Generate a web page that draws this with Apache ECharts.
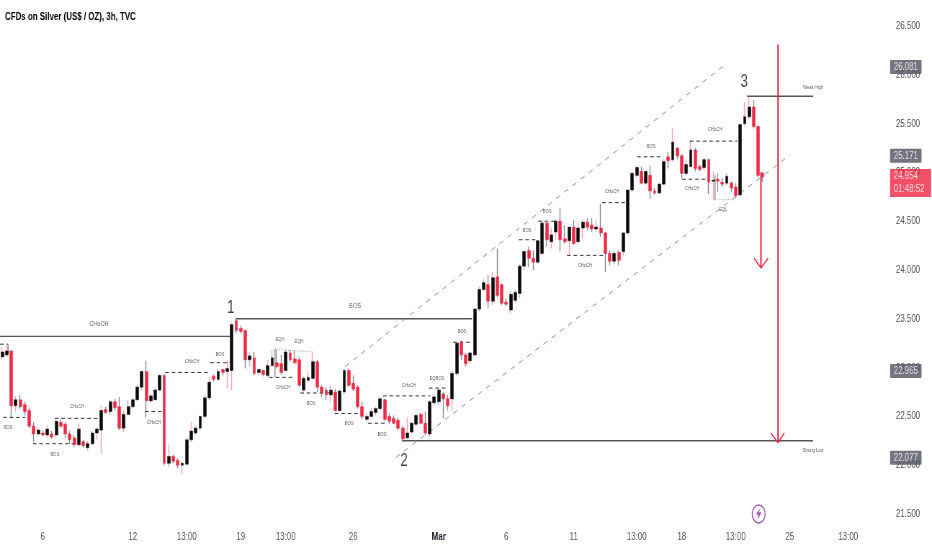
<!DOCTYPE html>
<html><head><meta charset="utf-8">
<style>html,body{margin:0;padding:0;background:#fff;overflow:hidden;width:932px;height:550px}#c{width:1294px;height:550px;transform:scaleX(0.72025);transform-origin:0 0}</style>
<script src="https://cdn.jsdelivr.net/npm/echarts@6/dist/echarts.min.js"></script>
</head><body><div id="c"></div>
<script>
const chartTitle = 'CFDs on Silver (US$ / OZ), 3h, TVC';
const opens = [23.11,23.13,23.17,22.61,22.67,22.62,22.56,22.40,22.32,22.33,22.31,22.32,22.31,22.44,22.42,22.32,22.28,22.21,22.24,22.18,22.22,22.33,22.36,22.57,22.55,22.65,22.60,22.38,22.52,22.60,22.67,22.80,22.96,22.66,22.67,22.77,22.92,22.02,22.09,22.05,22.00,22.01,22.26,22.33,22.38,22.50,22.69,22.91,22.88,22.98,22.96,22.97,23.48,
23.40,23.38,23.08,23.10,22.95,22.97,22.92,23.02,23.05,23.04,22.97,23.15,23.09,23.08,22.77,22.87,22.89,23.06,22.80,22.77,22.72,22.75,22.56,22.75,22.97,22.84,22.80,22.60,22.47,22.50,22.54,22.58,22.67,22.50,22.48,22.46,22.38,22.28,22.34,22.42,22.52,22.43,22.32,22.64,22.65,22.73,22.68,22.68,22.94,
23.26,23.13,23.07,23.13,23.60,23.80,23.85,23.68,23.93,23.85,23.67,23.59,23.69,23.76,24.04,24.20,24.12,24.08,24.17,24.48,24.29,24.39,24.50,24.32,24.30,24.44,24.29,24.43,24.49,24.46,24.42,24.43,24.38,24.17,24.09,24.18,24.19,24.38,
24.82,24.97,25.01,24.89,24.97,24.81,24.79,24.88,25.16,25.13,25.25,25.17,24.99,25.06,25.23,25.06,25.05,25.13,24.91,24.93,24.90,24.89,24.89,24.85,24.77,25.50,25.57,25.67,25.47,24.99];
const closes = [23.16,23.17,22.61,22.67,22.60,22.55,22.40,22.32,22.36,22.31,22.37,22.29,22.45,22.40,22.32,22.26,22.21,22.37,22.20,22.22,22.33,22.37,22.56,22.54,22.65,22.59,22.38,22.52,22.60,22.67,22.80,22.96,22.66,22.71,22.77,22.92,22.02,22.09,22.04,22.00,22.02,22.26,22.35,22.38,22.50,22.69,22.85,22.88,22.96,22.95,22.99,23.44,23.38,
23.37,23.08,23.12,22.94,22.98,22.93,23.02,23.10,23.01,22.95,23.16,23.08,23.05,22.82,22.89,22.90,23.06,22.80,22.74,22.72,22.77,22.56,22.76,22.97,22.82,22.78,22.60,22.50,22.50,22.55,22.58,22.68,22.47,22.45,22.43,22.38,22.27,22.33,22.43,22.51,22.43,22.33,22.65,22.70,22.77,22.68,22.61,22.94,23.25,
23.13,23.04,23.15,23.60,23.80,23.87,23.68,23.92,23.74,23.66,23.65,23.75,23.77,24.04,24.19,24.12,24.08,24.30,24.48,24.31,24.36,24.50,24.31,24.29,24.44,24.27,24.43,24.49,24.44,24.42,24.44,24.38,24.17,24.09,24.17,24.10,24.38,24.82,
24.99,25.05,24.89,25.01,24.81,24.79,24.88,25.11,25.12,25.31,25.17,24.99,25.08,25.23,25.04,25.03,25.13,24.90,24.92,24.91,24.88,24.96,24.84,24.76,25.49,25.57,25.67,25.47,24.97,24.954];
const lows = [23.08,23.11,22.48,22.55,22.58,22.51,22.38,22.24,22.29,22.30,22.28,22.27,22.28,22.38,22.28,22.22,22.19,22.19,22.18,22.15,22.20,22.26,22.12,22.53,22.51,22.56,22.36,22.34,22.51,22.58,22.67,22.77,22.49,22.64,22.67,22.76,22.00,21.98,22.02,21.97,21.91,22.00,22.24,22.31,22.36,22.48,22.67,22.86,22.86,22.92,22.79,22.77,23.35,
23.35,22.99,23.01,22.92,22.92,22.91,22.90,23.01,22.99,22.93,22.96,23.06,23.04,22.80,22.73,22.85,22.87,22.75,22.70,22.67,22.65,22.55,22.55,22.73,22.80,22.76,22.58,22.47,22.45,22.48,22.51,22.56,22.45,22.42,22.42,22.36,22.26,22.27,22.32,22.40,22.42,22.31,22.29,22.61,22.62,22.48,22.56,22.56,22.92,
23.08,23.01,23.04,23.11,23.58,23.78,23.61,23.64,23.72,23.64,23.63,23.56,23.66,23.71,24.00,24.03,24.00,24.06,24.15,24.24,24.22,24.31,24.19,24.27,24.15,24.26,24.27,24.32,24.41,24.39,24.39,24.34,23.98,24.05,24.06,24.05,24.15,24.36,
24.80,24.95,24.88,24.87,24.73,24.77,24.78,24.87,25.04,25.11,25.14,24.94,24.97,25.05,25.01,25.01,25.02,24.78,24.72,24.80,24.85,24.87,24.80,24.74,24.75,25.48,25.55,25.45,24.95,24.90];
const highs = [23.21,23.23,23.18,22.71,22.72,22.65,22.59,22.44,22.39,22.36,22.41,22.35,22.48,22.47,22.44,22.35,22.31,22.43,22.26,22.25,22.35,22.39,22.61,22.60,22.67,22.68,22.70,22.56,22.67,22.69,22.82,22.97,23.07,22.73,22.79,22.93,22.93,22.21,22.11,22.07,22.04,22.29,22.44,22.40,22.51,22.72,22.90,22.93,22.99,22.99,23.08,23.46,23.50,
23.43,23.39,23.16,23.16,22.99,22.98,23.08,23.18,23.18,23.13,23.18,23.18,23.18,23.11,22.91,22.96,23.16,23.08,22.82,22.80,22.82,22.78,22.78,22.99,22.99,22.92,22.82,22.65,22.53,22.58,22.60,22.70,22.68,22.53,22.51,22.49,22.40,22.49,22.44,22.53,22.54,22.55,22.67,22.73,22.79,22.75,22.72,22.97,23.26,
23.28,23.15,23.16,23.61,23.83,23.91,23.95,23.98,24.22,23.86,23.71,23.78,23.80,24.06,24.20,24.24,24.20,24.31,24.51,24.49,24.43,24.52,24.63,24.46,24.44,24.51,24.48,24.51,24.53,24.53,24.51,24.68,24.39,24.20,24.19,24.20,24.38,24.82,
25.01,25.07,25.06,25.02,25.07,24.84,24.89,25.14,25.21,25.45,25.26,25.19,25.13,25.33,25.25,25.08,25.15,25.14,25.01,24.99,24.94,24.99,24.91,24.89,25.50,25.72,25.77,25.74,25.48,25.01];

const barSlots = 197;
const tickSlots = [9,29,41,53,63,78,97,112,127,141,151,163,175,188];
const tickTexts = ['6','12','13:00','19','13:00','26','Mar','6','11','13:00','18','13:00','25','13:00'];

// annotation segments: [bar position, price, bar position, price]
const solidLines = [[0,23.32,51.8,23.32],[52.4,23.50,104.9,23.50],[89.3,22.25,180.7,22.25],[166,25.78,180.7,25.78]];
const channelLines = [[76.7,23.01,160.7,26.09],[88,22.08,175.6,25.18]];
const dashedLines = [[0.7,22.49,5.6,22.49],[7.3,22.22,17.1,22.22],[12.2,22.48,22.2,22.48],[32.2,22.55,36.7,22.55],[36.7,22.95,46.7,22.95],[46.7,23.05,51.1,23.05],[59.8,22.90,65.6,22.90],[66.7,22.74,73.3,22.74],[74.4,22.53,80.4,22.53],[81.8,22.43,86,22.43],[85.1,22.71,95.6,22.71],[95.3,22.79,99.3,22.79],[100.7,23.26,104.4,23.26],[115.3,24.31,119.6,24.31],[119.6,24.50,123.3,24.50],[126,24.15,134.4,24.15],[133.8,24.69,138.9,24.69],[141.6,25.16,147.3,25.16],[153.3,25.32,163.8,25.32],[151.6,24.93,157.3,24.93],[0,23.24,1.8,23.24]];
const dottedLines = [[158.9,24.72,162.9,24.72],[61.1,23.19,69.6,23.16]];
const thinLines = [[158.9,24.72,158.9,24.97],[61.1,23.19,61.1,22.90],[1.8,23.24,1.8,23.15]];
const arrowShafts = [[169.1,25.00,169.1,24.02],[172.9,26.31,172.9,22.23]];
const arrowHeads = [[167.6,24.12,169.1,24.02],[170.7,24.12,169.1,24.02],[171.3,22.33,172.9,22.23],[174.3,22.33,172.9,22.23]];

const smallNotes = [['BOS',1.8,22.39],['BOS',12.2,22.11],['CHoCH',17.1,22.60],['CHoCH',34.2,22.44],['CHoCH',42.7,23.06],['BOS',48.9,23.14],['EQH',62.2,23.29],['EQH',66.4,23.27],['CHoCH',62.9,22.80],['BOS',69.1,22.63],['BOS',77.6,22.43],['BOS',84.9,22.32],['CHoCH',90.9,22.82],['EQBOS',97.1,22.89],['BOS',102.7,23.37],['BOS',117.1,24.41],['BOS',121.6,24.60],['CHoCH',130,24.05],['CHoCH',136,24.80],['BOS',144.7,25.27],['CHoCH',158.9,25.44],['CHoCH',153.8,24.84],['EQL',160.7,24.62],['Weak High',180.7,25.87],['Strong Low',180.7,22.15]];
const bigNotes = [['CHoCH',22,23.45],['BOS',78.9,23.63]];
const waveNotes = [['1',51.3,23.61],['2',89.8,22.04],['3',165.4,25.93]];

const tagPrices = [26.081,25.171,22.965,22.077];
const lastPrice = 24.954;
const countdown = '01:48:52';
const iconSpot = [168.6,21.5];

const FONT = '"Liberation Sans",Arial,sans-serif';
const RED = '#ee2b47', BLACK = '#0b0b0b';

const categories = Array.from({length:barSlots},(_,i)=>{const k=tickSlots.indexOf(i);return k<0?'':tickTexts[k];});
const wicks = opens.map((o,i)=>[o,closes[i],lows[i],highs[i]]);
const bodies = opens.map((o,i)=>[o,closes[i],Math.min(o,closes[i]),Math.max(o,closes[i])]);

function segSeries(segs,style){
  return segs.map(s=>({type:'line',xAxisIndex:1,yAxisIndex:0,silent:true,symbol:'none',animation:false,z:style.z||3,clip:false,
    lineStyle:{color:style.color,width:style.width,type:style.type},data:[[s[0],s[1]],[s[2],s[3]]]}));
}
function noteSeries(notes,size,color){
  return {type:'scatter',xAxisIndex:1,yAxisIndex:0,symbolSize:0,silent:true,animation:false,z:6,
    data:notes.map(n=>({value:[n[1],n[2]],name:n[0]})),
    label:{show:true,position:'inside',formatter:p=>p.name,fontSize:size,color:color,fontFamily:FONT}};
}
function tagSeries(){
  const base={type:'scatter',xAxisIndex:1,yAxisIndex:0,symbolSize:0,silent:true,animation:false,clip:false,z:8};
  return [
    Object.assign({},base,{data:tagPrices.map(p=>[barSlots,p]),
      label:{show:true,position:'right',distance:5,formatter:p=>p.value[1].toFixed(3),backgroundColor:'#50535e',color:'#fff',
        fontFamily:FONT,fontSize:11,padding:[2,5,1,5],borderRadius:1}}),
    Object.assign({},base,{data:[[barSlots,lastPrice]],
      label:{show:true,position:'right',distance:5,offset:[0,6],formatter:p=>p.value[1].toFixed(3)+'\n'+countdown,backgroundColor:'#ee2440',color:'#fff',
        fontFamily:FONT,fontSize:11,lineHeight:13,padding:[1,9,1,5],align:'left'}})
  ];
}

const chart = echarts.init(document.getElementById('c'),null,{renderer:'canvas',width:1294,height:550});
chart.setOption({
  animation:false,backgroundColor:'#fff',
  title:{text:chartTitle,left:2,top:6,textStyle:{fontFamily:FONT,fontSize:11,fontWeight:'bold',color:'#000'}},
  grid:{left:0,right:63.2,top:26,bottom:36,containLabel:false},
  xAxis:[
    {type:'category',data:categories,boundaryGap:true,axisLine:{show:false},axisTick:{show:false},splitLine:{show:false},
     axisLabel:{interval:(i,v)=>v!=='',margin:17,color:'#50535e',fontFamily:FONT,fontSize:11,
       formatter:v=>v==='Mar'?'{b|Mar}':v,rich:{b:{fontWeight:'bold',fontFamily:FONT,fontSize:11,color:'#131722'}}}},
    {type:'value',min:0,max:barSlots,show:false}
  ],
  yAxis:[{type:'value',position:'right',min:21.5,max:26.5,interval:0.5,axisLine:{show:false},axisTick:{show:false},splitLine:{show:false},
    axisLabel:{margin:13,color:'#50535e',fontFamily:FONT,fontSize:11,formatter:v=>v.toFixed(3)}}],
  series:[
    {type:'candlestick',xAxisIndex:0,yAxisIndex:0,barWidth:1,silent:true,z:2,data:wicks,
     itemStyle:{color:'#f5a3ae',color0:'#8c8c8c',borderColor:'#f5a3ae',borderColor0:'#8c8c8c',borderWidth:1.4}},
    {type:'candlestick',xAxisIndex:0,yAxisIndex:0,barWidth:4.4,silent:true,z:3,data:bodies,
     itemStyle:{color:BLACK,color0:RED,borderColor:BLACK,borderColor0:RED,borderWidth:0.5}},
    ...segSeries(solidLines,{color:'#555',width:1.4,type:'solid'}),
    ...segSeries(channelLines,{color:'#8f8f8f',width:1,type:[6,7]}),
    ...segSeries(dashedLines,{color:'#333',width:1,type:[5,4]}),
    ...segSeries(dottedLines,{color:'#888',width:1,type:[1,2]}),
    ...segSeries(thinLines,{color:'#888',width:1.4,type:'solid'}),
    ...segSeries(arrowShafts,{color:'#e4274a',width:2,type:'solid',z:5}),
    ...segSeries(arrowHeads,{color:'#e4274a',width:1.5,type:'solid',z:5}),
    noteSeries(smallNotes,5.7,'#333'),
    noteSeries(bigNotes,7.7,'#333'),
    noteSeries(waveNotes,18,'#111'),
    {type:'scatter',xAxisIndex:1,yAxisIndex:0,silent:true,animation:false,clip:false,z:7,data:[iconSpot],symbol:'circle',symbolSize:18,
     itemStyle:{color:'#fff',borderColor:'#8e24aa',borderWidth:1.4}},
    {type:'scatter',xAxisIndex:1,yAxisIndex:0,silent:true,animation:false,clip:false,z:8,data:[iconSpot],
     symbol:'path://M6 0 L1 6 L4 6 L3 11 L8 4 L5 4 Z',symbolSize:[8,11],itemStyle:{color:'#8e24aa'}},
    ...tagSeries()
  ]
});
</script></body></html>
